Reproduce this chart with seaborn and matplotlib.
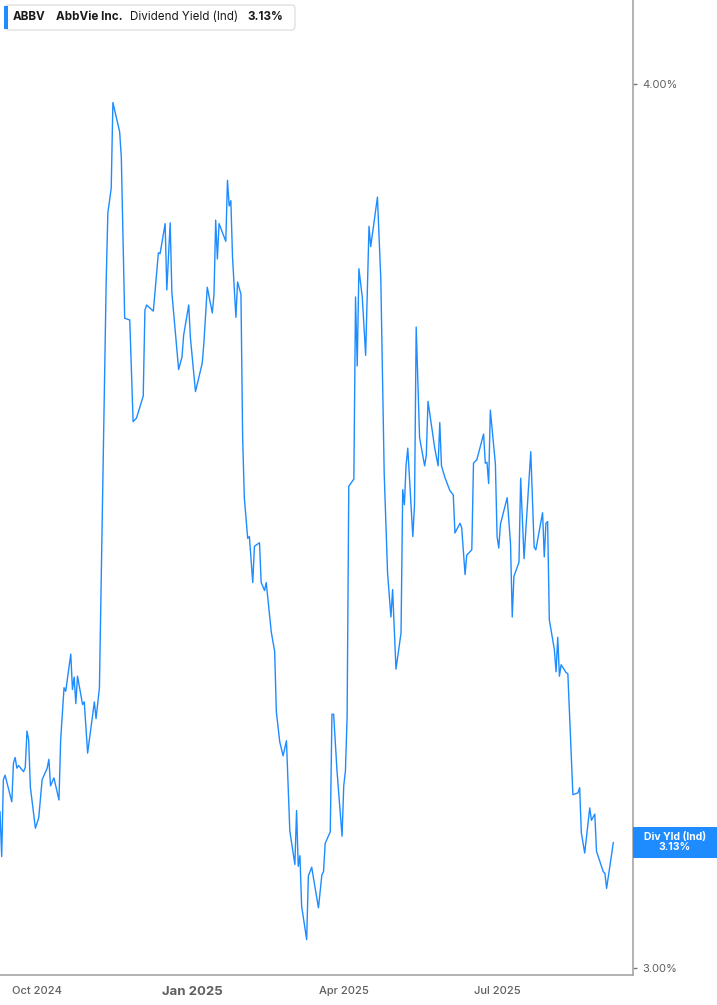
import pandas as pd
import numpy as np
import matplotlib
matplotlib.use("Agg")
import matplotlib.pyplot as plt
import matplotlib.transforms as mtransforms
from matplotlib.patches import Rectangle, FancyBboxPatch
import seaborn as sns

# ABBV dividend yield (indicated)
dates = [
    "2024-09-09", "2024-09-10", "2024-09-11", "2024-09-12", "2024-09-16", "2024-09-17",
    "2024-09-18", "2024-09-19", "2024-09-20", "2024-09-23", "2024-09-24", "2024-09-25",
    "2024-09-26", "2024-09-27", "2024-09-30", "2024-10-02", "2024-10-04", "2024-10-07",
    "2024-10-08", "2024-10-09", "2024-10-11", "2024-10-14", "2024-10-15", "2024-10-17",
    "2024-10-18", "2024-10-21", "2024-10-22", "2024-10-23", "2024-10-24", "2024-10-25",
    "2024-10-28", "2024-10-29", "2024-10-31", "2024-11-04", "2024-11-05", "2024-11-07",
    "2024-11-11", "2024-11-12", "2024-11-14", "2024-11-15", "2024-11-19", "2024-11-20",
    "2024-11-22", "2024-11-25", "2024-11-27", "2024-11-29", "2024-12-03", "2024-12-04",
    "2024-12-05", "2024-12-09", "2024-12-12", "2024-12-13", "2024-12-16", "2024-12-17",
    "2024-12-19", "2024-12-20", "2024-12-24", "2024-12-26", "2024-12-27", "2024-12-30",
    "2024-12-31", "2025-01-03", "2025-01-07", "2025-01-08", "2025-01-10", "2025-01-13",
    "2025-01-14", "2025-01-15", "2025-01-16", "2025-01-17", "2025-01-21", "2025-01-22",
    "2025-01-23", "2025-01-24", "2025-01-25", "2025-01-27", "2025-01-28", "2025-01-30",
    "2025-01-31", "2025-02-01", "2025-02-03", "2025-02-04", "2025-02-06", "2025-02-07",
    "2025-02-10", "2025-02-11", "2025-02-13", "2025-02-14", "2025-02-17", "2025-02-19",
    "2025-02-20", "2025-02-22", "2025-02-24", "2025-02-26", "2025-02-28", "2025-03-03",
    "2025-03-04", "2025-03-05", "2025-03-06", "2025-03-07", "2025-03-10", "2025-03-11",
    "2025-03-13", "2025-03-14", "2025-03-17", "2025-03-19", "2025-03-20", "2025-03-21",
    "2025-03-24", "2025-03-25", "2025-03-26", "2025-03-28", "2025-03-31", "2025-04-01",
    "2025-04-02", "2025-04-03", "2025-04-04", "2025-04-07", "2025-04-08", "2025-04-09",
    "2025-04-10", "2025-04-12", "2025-04-14", "2025-04-16", "2025-04-17", "2025-04-21",
    "2025-04-23", "2025-04-25", "2025-04-27", "2025-04-29", "2025-04-30", "2025-05-02",
    "2025-05-05", "2025-05-06", "2025-05-07", "2025-05-08", "2025-05-09", "2025-05-12",
    "2025-05-13", "2025-05-14", "2025-05-16", "2025-05-19", "2025-05-20", "2025-05-21",
    "2025-05-25", "2025-05-27", "2025-05-28", "2025-05-29", "2025-05-31", "2025-06-03",
    "2025-06-05", "2025-06-06", "2025-06-09", "2025-06-10", "2025-06-12", "2025-06-13",
    "2025-06-16", "2025-06-17", "2025-06-19", "2025-06-23", "2025-06-24", "2025-06-25",
    "2025-06-26", "2025-06-27", "2025-06-30", "2025-07-01", "2025-07-02", "2025-07-03",
    "2025-07-07", "2025-07-09", "2025-07-10", "2025-07-11", "2025-07-14", "2025-07-15",
    "2025-07-17", "2025-07-21", "2025-07-23", "2025-07-24", "2025-07-28", "2025-07-29",
    "2025-07-30", "2025-07-31", "2025-08-01", "2025-08-04", "2025-08-05", "2025-08-06",
    "2025-08-07", "2025-08-08", "2025-08-11", "2025-08-12", "2025-08-15", "2025-08-18",
    "2025-08-19", "2025-08-20", "2025-08-22", "2025-08-25", "2025-08-26", "2025-08-28",
    "2025-08-29", "2025-09-02", "2025-09-03", "2025-09-04", "2025-09-08",
]
div_yield = [
    3.177, 3.126, 3.213, 3.218, 3.188, 3.232,
    3.238, 3.226, 3.229, 3.222, 3.227, 3.268,
    3.258, 3.205, 3.158, 3.170, 3.213, 3.226,
    3.236, 3.206, 3.215, 3.190, 3.258, 3.317,
    3.313, 3.355, 3.315, 3.329, 3.299, 3.330,
    3.298, 3.301, 3.243, 3.301, 3.282, 3.317,
    3.775, 3.854, 3.882, 3.979, 3.946, 3.917,
    3.735, 3.733, 3.618, 3.622, 3.647, 3.744,
    3.750, 3.743, 3.809, 3.808, 3.842, 3.767,
    3.843, 3.764, 3.677, 3.691, 3.716, 3.750,
    3.713, 3.652, 3.684, 3.707, 3.770, 3.741,
    3.762, 3.846, 3.802, 3.842, 3.822, 3.891,
    3.862, 3.868, 3.804, 3.736, 3.776, 3.762,
    3.600, 3.532, 3.486, 3.488, 3.436, 3.477,
    3.481, 3.436, 3.427, 3.436, 3.380, 3.358,
    3.290, 3.256, 3.240, 3.257, 3.155, 3.117,
    3.178, 3.115, 3.127, 3.070, 3.032, 3.104,
    3.114, 3.102, 3.068, 3.105, 3.109, 3.141,
    3.154, 3.287, 3.287, 3.223, 3.149, 3.206,
    3.223, 3.284, 3.545, 3.553, 3.759, 3.681,
    3.791, 3.759, 3.693, 3.839, 3.816, 3.872,
    3.779, 3.560, 3.447, 3.397, 3.428, 3.338,
    3.379, 3.541, 3.524, 3.569, 3.588, 3.488,
    3.524, 3.725, 3.600, 3.568, 3.580, 3.641,
    3.588, 3.568, 3.617, 3.568, 3.555, 3.540,
    3.535, 3.492, 3.503, 3.498, 3.445, 3.467,
    3.473, 3.571, 3.575, 3.604, 3.571, 3.572,
    3.548, 3.631, 3.570, 3.488, 3.475, 3.502,
    3.532, 3.479, 3.397, 3.443, 3.459, 3.554,
    3.463, 3.584, 3.476, 3.473, 3.515, 3.465,
    3.503, 3.505, 3.394, 3.360, 3.335, 3.374,
    3.330, 3.343, 3.334, 3.333, 3.196, 3.198,
    3.204, 3.153, 3.130, 3.181, 3.167, 3.174,
    3.132, 3.109, 3.107, 3.090, 3.142,
]

ticker = "ABBV"
company = "AbbVie Inc."
metric = "Dividend Yield (Ind)"
current_txt = "3.13%"
x_tick_dates = ["2024-10-01", "2025-01-01", "2025-04-01", "2025-07-01"]
x_tick_labels = ["Oct 2024", "Jan 2025", "Apr 2025", "Jul 2025"]
y_ticks = [3.0, 4.0]
y_tick_labels = ["3.00%", "4.00%"]

LINE = "#1e8cff"
GRAY = "#a6a6a6"
TXT = "#5f5f5f"

sns.set_style("white")
plt.rcParams["font.family"] = ["Inter", "DejaVu Sans"]

df = pd.DataFrame({"date": pd.to_datetime(dates), "yield": div_yield})

fig = plt.figure(figsize=(7.17, 10.05), dpi=100)
ax = fig.add_axes([0.0, 30 / 1005, 633 / 717, 975 / 1005])

sns.lineplot(data=df, x="date", y="yield", ax=ax, color=LINE, linewidth=1.0)

ax.set_xlim(pd.Timestamp("2024-09-09"), pd.Timestamp("2025-09-19 16:00"))
ax.set_ylim(2.992, 4.095)
ax.set_xlabel("")
ax.set_ylabel("")

# spines: only bottom and right
for side in ["left", "top"]:
    ax.spines[side].set_visible(False)
for side in ["bottom", "right"]:
    ax.spines[side].set_color(GRAY)
    ax.spines[side].set_linewidth(1.2)

ax.yaxis.tick_right()
ax.set_yticks(y_ticks)
ax.set_yticklabels(y_tick_labels)
ax.tick_params(axis="y", direction="out", length=3, width=1, color="#777777",
               labelsize=8, labelcolor=TXT, pad=4)

ax.set_xticks(pd.to_datetime(x_tick_dates))
ax.set_xticklabels(x_tick_labels)
ax.tick_params(axis="x", direction="out", length=4, width=1, color=GRAY,
               labelsize=8, labelcolor=TXT, pad=4)
for lbl in ax.get_xticklabels():
    if lbl.get_text().startswith("Jan"):
        lbl.set_fontweight("bold")
        lbl.set_fontsize(9.5)
    else:
        lbl.set_fontweight("medium")
ax.grid(False)

# current value tag on the right axis
last_val = div_yield[-1]
trans = mtransforms.blended_transform_factory(ax.transAxes, ax.transData)
half_h = 15.5 * (4.095 - 2.992) / 975
ax.add_patch(Rectangle((1.0, last_val - half_h), 84 / 633, 2 * half_h,
                       transform=trans, clip_on=False, facecolor=LINE,
                       edgecolor="none", zorder=5))
ax.text(1.0 + 42 / 633, last_val, "Div Yld (Ind)\n" + current_txt, transform=trans,
        ha="center", va="center", color="white", fontsize=7.5, fontweight="bold",
        linespacing=1.0, zorder=6)

# header box
fig.patches.append(FancyBboxPatch((5 / 717, 1 - 30 / 1005), 290 / 717, 25 / 1005,
                                  boxstyle="round,pad=0,rounding_size=0.004",
                                  transform=fig.transFigure, facecolor="white",
                                  edgecolor="#e2e2e2", linewidth=1.0))
fig.patches.append(Rectangle((4 / 717, 1 - 29 / 1005), 3.5 / 717, 23 / 1005,
                             transform=fig.transFigure, facecolor=LINE,
                             edgecolor="none"))
hy = 1 - 17.5 / 1005
hdr_size = 8.4
fig.text(13 / 717, hy, ticker, fontsize=hdr_size, fontweight="bold", color="#1a1a1a", va="center")
fig.text(56 / 717, hy, company, fontsize=hdr_size, fontweight="bold", color="#1a1a1a", va="center")
fig.text(130 / 717, hy, metric, fontsize=hdr_size, color="#1a1a1a", va="center")
fig.text(247 / 717, hy, current_txt, fontsize=hdr_size, fontweight="bold", color="#1a1a1a", va="center")

fig.savefig("out.png", dpi=100)
